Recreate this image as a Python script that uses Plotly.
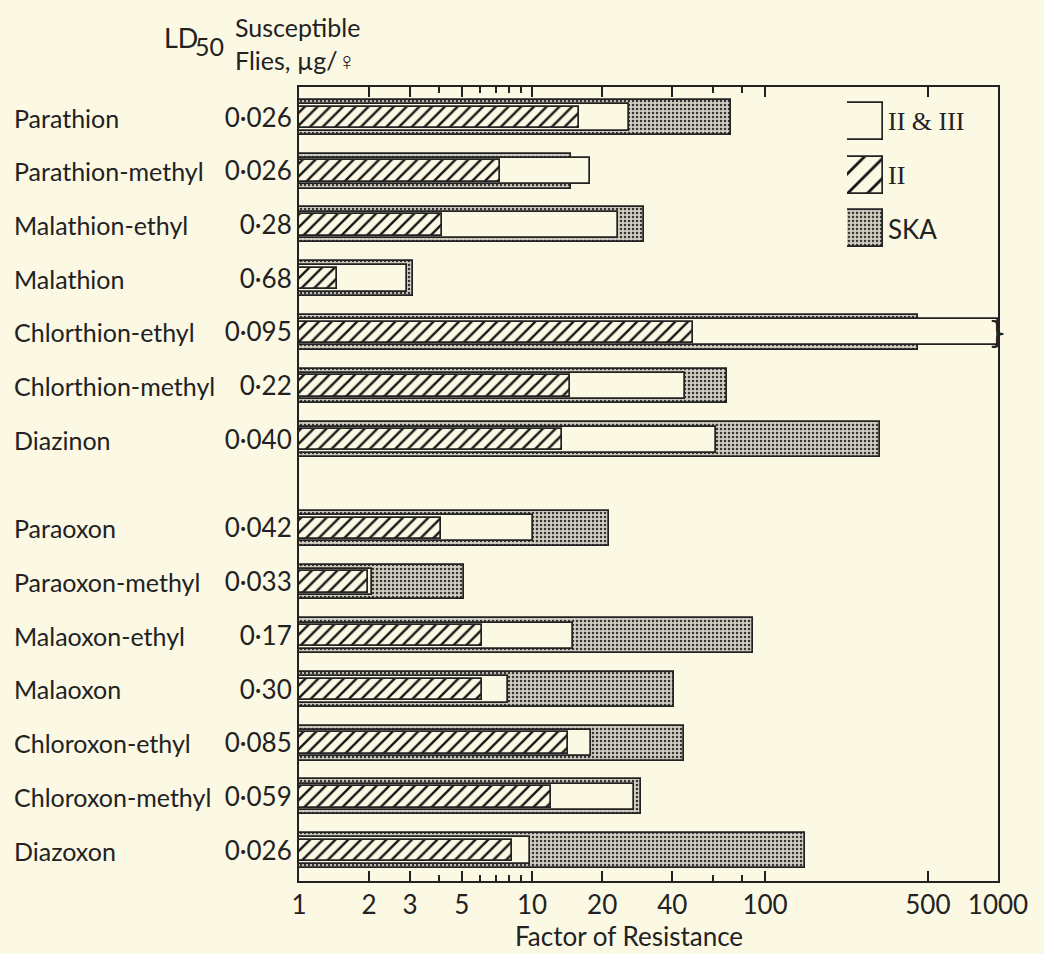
import plotly.graph_objects as go

# ---------------- data ----------------
compounds = ["Parathion", "Parathion-methyl", "Malathion-ethyl", "Malathion",
             "Chlorthion-ethyl", "Chlorthion-methyl", "Diazinon",
             "Paraoxon", "Paraoxon-methyl", "Malaoxon-ethyl", "Malaoxon",
             "Chloroxon-ethyl", "Chloroxon-methyl", "Diazoxon"]
ld50 = ["0.026", "0.026", "0.28", "0.68", "0.095", "0.22", "0.040",
        "0.042", "0.033", "0.17", "0.30", "0.085", "0.059", "0.026"]
group = [0, 0, 0, 0, 0, 0, 0, 1, 1, 1, 1, 1, 1, 1]   # thions / oxons

ska    = [71.6, 14.7, 30.1, 3.1, 453, 68.7, 313, 21.5, 5.1, 88.6, 40.6, 44.9, 29.4, 149]
ii_iii = [26.1, 17.7, 23.4, 2.9, 1000, 45.3, 61.9, 10.1, 2.05, 15.0, 7.86, 17.9, 27.4, 9.8]
ii     = [15.9, 7.3, 4.1, 1.45, 49.1, 14.5, 13.5, 4.06, 1.97, 6.13, 6.13, 14.3, 12.1, 8.17]
broken = [False, False, False, False, True, False, False,
          False, False, False, False, False, False, False]

tick_vals = [1, 2, 3, 5, 10, 20, 40, 100, 500, 1000]
tick_text = ["1", "2", "3", "5", "10", "20", "40", "100", "500", "1000"]
minor_vals = [4, 6, 7, 8, 9, 60, 80]

series_names = ["II & III", "II", "SKA"]

# ---------------- style ----------------
BG = "#FBF8E4"
INK = "#222222"
FONT = "Lato"
GROUP_GAP = 0.65

ypos = [i + GROUP_GAP * g for i, g in enumerate(group)]

styles = {
    "SKA": dict(width=0.65, pattern=dict(shape=".", fgcolor="#333333", bgcolor="#d2cfc2",
                                         size=4, solidity=0.32, fgopacity=1)),
    "II & III": dict(width=0.49, pattern=dict(shape="", bgcolor=BG)),
    "II": dict(width=0.40, pattern=dict(shape="/", fgcolor="#151515", bgcolor=BG,
                                        size=9, solidity=0.26, fgopacity=1)),
}
line = dict(color=INK, width=1.7)

fig = go.Figure()
for name, vals in [("SKA", ska), ("II & III", ii_iii), ("II", ii)]:
    st = styles[name]
    fig.add_trace(go.Bar(
        x=vals, y=ypos, orientation="h", width=st["width"], name=name,
        marker=dict(color=BG, line=line, pattern=st["pattern"]),
        showlegend=False, hovertemplate="%{x}<extra>" + name + "</extra>",
    ))

# legend swatches drawn as tiny bars on an inset axis
for i, name in enumerate(series_names):
    st = styles[name]
    pat = dict(st["pattern"])
    if name == "II":
        pat["size"] = 14
        pat["solidity"] = 0.2
    fig.add_trace(go.Bar(
        x=[1], y=[i], orientation="h", width=0.69, xaxis="x2", yaxis="y2",
        marker=dict(color=BG, line=line, pattern=pat),
        showlegend=False, hoverinfo="skip",
    ))

annotations = []
# compound names
for name, y in zip(compounds, ypos):
    annotations.append(dict(text=name, x=-0.411, xref="paper", y=y, yref="y",
                            xanchor="left", yanchor="middle", showarrow=False,
                            font=dict(size=25, color=INK, family=FONT)))
# axis-break marks
for b, y in zip(broken, ypos):
    if b:
        annotations.append(dict(text="}", x=0.999, xref="paper", y=y, yref="y",
                                xanchor="center", yanchor="middle", showarrow=False,
                                font=dict(size=30, color=INK, family="DejaVu Sans")))
# legend labels
for i, name in enumerate(series_names):
    fam = "Liberation Serif" if name.startswith("II") else FONT
    annotations.append(dict(text=name, x=0.84, xref="paper", y=i, yref="y2",
                            xanchor="left", yanchor="middle", showarrow=False,
                            font=dict(size=26, color=INK, family=fam)))
# header: LD50 (large, lowered subscript)
annotations.append(dict(text="LD", x=-0.141, xref="paper", y=1.062, yref="paper",
                        xanchor="right", yanchor="middle", showarrow=False,
                        font=dict(size=27, color=INK, family=FONT)))
annotations.append(dict(text="50", x=-0.151, xref="paper", y=1.052, yref="paper",
                        xanchor="left", yanchor="middle", showarrow=False,
                        font=dict(size=25, color=INK, family=FONT)))
annotations.append(dict(text="Susceptible<br>Flies, µg/♀", x=-0.094, xref="paper", y=1.055,
                        yref="paper", xanchor="left", yanchor="middle", showarrow=False,
                        align="left", font=dict(size=25, color=INK, family=FONT)))
# x-axis title
annotations.append(dict(text="Factor of Resistance", x=0.472, xref="paper", y=-0.069,
                        yref="paper", xanchor="center", yanchor="middle", showarrow=False,
                        font=dict(size=26, color=INK, family=FONT)))

fig.update_layout(
    width=1044, height=954,
    margin=dict(l=299, r=46, t=87, b=73),
    paper_bgcolor=BG, plot_bgcolor=BG,
    barmode="overlay", bargap=0,
    font=dict(family=FONT, color=INK),
    annotations=annotations,
    xaxis=dict(
        type="log", range=[0, 3], tickmode="array", tickvals=tick_vals, ticktext=tick_text,
        ticks="inside", ticklen=10, tickwidth=1.6, tickcolor=INK,
        minor=dict(tickmode="array", tickvals=minor_vals, ticks="inside", ticklen=6,
                   tickwidth=1.6, tickcolor=INK, showgrid=False),
        showline=True, linecolor=INK, linewidth=2, mirror="ticks",
        showgrid=False, zeroline=False,
        tickfont=dict(size=26, color=INK, family=FONT),
    ),
    yaxis=dict(
        range=[14.218, -0.568], tickmode="array", tickvals=ypos,
        ticktext=[v.replace(".", "·") for v in ld50],
        ticks="", showline=True, linecolor=INK, linewidth=2, mirror=True,
        showgrid=False, zeroline=False,
        tickfont=dict(size=26, color=INK, family=FONT),
    ),
    xaxis2=dict(domain=[0.784, 0.8355], range=[0, 1], anchor="y2", visible=False),
    yaxis2=dict(domain=[0.788, 0.990], range=[2.5, -0.5], anchor="x2", visible=False),
)

fig.write_html(
    "out.html",
    config={"displayModeBar": False},
    post_script="document.body.style.margin='0';document.body.style.background='" + BG + "';",
)
